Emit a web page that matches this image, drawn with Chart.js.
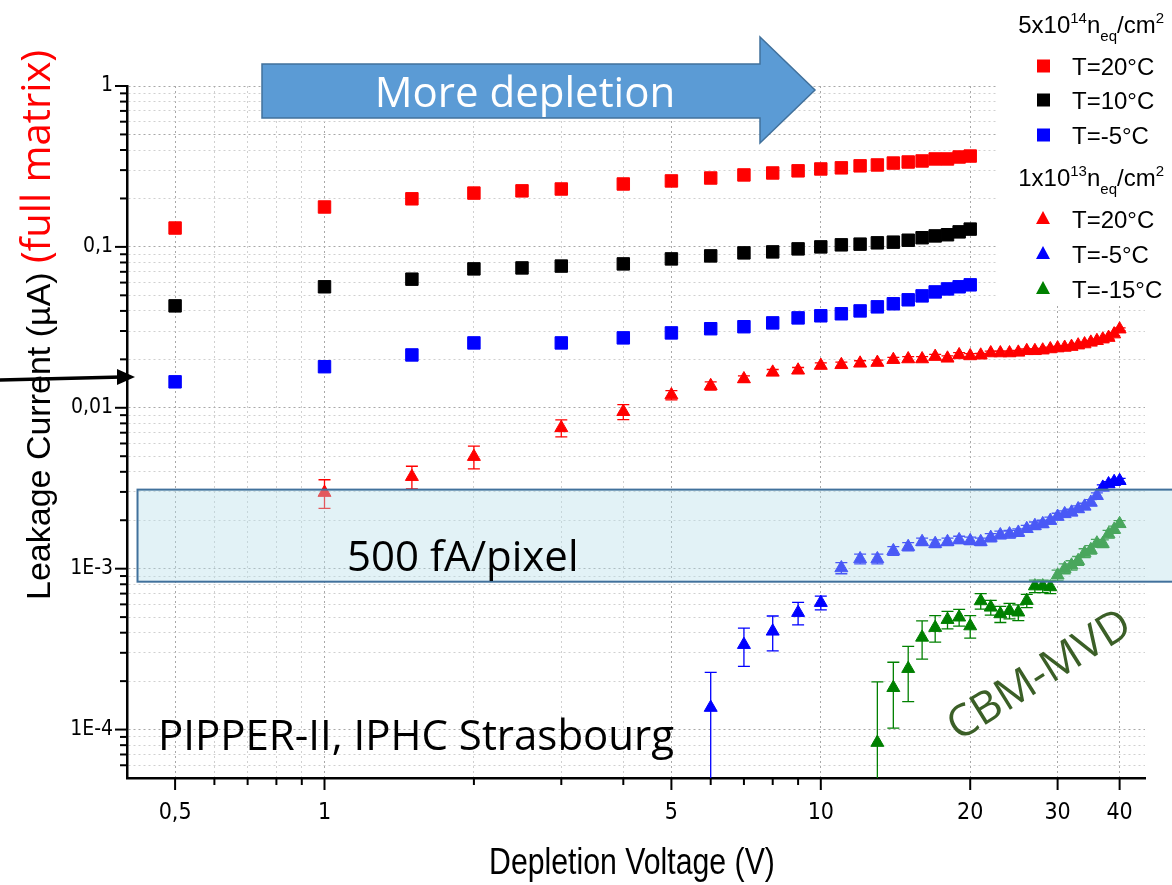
<!DOCTYPE html>
<html>
<head>
<meta charset="utf-8">
<script src="https://cdn.jsdelivr.net/npm/chart.js@4.4.1/dist/chart.umd.min.js"></script>
<style>
html, body { margin: 0; padding: 0; background: #fff; }
#wrap { width: 1172px; height: 885px; position: relative; }
</style>
</head>
<body>
<div id="wrap"><canvas id="chart" width="1172" height="885"></canvas></div>
<script>
// 5x10^14 neq/cm2 (squares)
const voltsSq = [0.5, 1, 1.5, 2, 2.5, 3, 4, 5, 6, 7, 8, 9, 10, 11, 12, 13, 14, 15, 16, 17, 18, 19, 20];
const redSq = [0.131, 0.177, 0.199, 0.216, 0.223, 0.229, 0.246, 0.257, 0.268, 0.280, 0.288, 0.297, 0.305, 0.310, 0.319, 0.323, 0.332, 0.337, 0.342, 0.352, 0.352, 0.362, 0.367];
const blackSq = [0.043, 0.0565, 0.063, 0.073, 0.074, 0.076, 0.0784, 0.0842, 0.0879, 0.0918, 0.0931, 0.0972, 0.100, 0.103, 0.104, 0.106, 0.107, 0.110, 0.114, 0.117, 0.119, 0.124, 0.129];
const voltsSqBlue = [0.5, 1, 1.5, 2, 3, 4, 5, 6, 7, 8, 9, 10, 11, 12, 13, 14, 15, 16, 17, 18, 19, 20];
const blueSq = [0.0145, 0.018, 0.0213, 0.0253, 0.0253, 0.0272, 0.0292, 0.0310, 0.0319, 0.0337, 0.0362, 0.0373, 0.0384, 0.0400, 0.0424, 0.0443, 0.0469, 0.0496, 0.0525, 0.0548, 0.0565, 0.0581];

// 1x10^13 neq/cm2 (triangles)
const voltsTriRed = [1, 1.5, 2, 3, 4, 5, 6, 7, 8, 9, 10, 11, 12, 13, 14, 15, 16, 17, 18, 19, 20, 21, 22, 23, 24, 25, 26, 27, 28, 29, 30, 31, 32, 33, 34, 35, 36, 37, 38, 39, 40];
const redTri = [0.00297, 0.00373, 0.00497, 0.0075, 0.00945, 0.0120, 0.0137, 0.0151, 0.0166, 0.0171, 0.0183, 0.0185, 0.0189, 0.0191, 0.0199, 0.0201, 0.0201, 0.0208, 0.0203, 0.0213, 0.0210, 0.0212, 0.0219, 0.0219, 0.0219, 0.0221, 0.0226, 0.0226, 0.0228, 0.0232, 0.0235, 0.0237, 0.0240, 0.0245, 0.0249, 0.0255, 0.0261, 0.0267, 0.0273, 0.0287, 0.0308];
const redTriErr = [0.0006, 0.0006, 0.0008, 0.0009, 0.001, 0.0008, 0.0008, 0.0007, 0.0007, 0.0007, 0.0007, 0.0007, 0.0007, 0.0007, 0.0007, 0.0007, 0.0007, 0.0007, 0.0007, 0.0007, 0.0007, 0.0006, 0.0006, 0.0006, 0.0006, 0.0006, 0.0006, 0.0006, 0.0006, 0.0006, 0.0006, 0.0006, 0.0006, 0.0006, 0.0006, 0.0006, 0.0006, 0.0006, 0.0006, 0.0006, 0.0006];

const voltsTriBlue = [6, 7, 8, 9, 10, 11, 12, 13, 14, 15, 16, 17, 18, 19, 20, 21, 22, 23, 24, 25, 26, 27, 28, 29, 30, 31, 32, 33, 34, 35, 36, 37, 38, 39, 40];
const blueTri = [1.37e-4, 3.37e-4, 4.08e-4, 5.33e-4, 6.15e-4, 1.01e-3, 1.15e-3, 1.15e-3, 1.29e-3, 1.37e-3, 1.47e-3, 1.43e-3, 1.47e-3, 1.51e-3, 1.49e-3, 1.47e-3, 1.56e-3, 1.62e-3, 1.64e-3, 1.68e-3, 1.77e-3, 1.85e-3, 1.90e-3, 1.99e-3, 2.11e-3, 2.19e-3, 2.24e-3, 2.35e-3, 2.44e-3, 2.58e-3, 2.84e-3, 3.20e-3, 3.36e-3, 3.47e-3, 3.52e-3];
const blueTriErr = [0.9e-4, 0.9e-4, 1.0e-4, 0.85e-4, 0.6e-4, 0.8e-4, 0.8e-4, 0.8e-4, 0.8e-4, 0.8e-4, 0.8e-4, 0.8e-4, 0.8e-4, 0.8e-4, 0.8e-4, 0.8e-4, 0.9e-4, 0.9e-4, 0.9e-4, 0.9e-4, 0.9e-4, 1.0e-4, 1.0e-4, 1.0e-4, 1.0e-4, 1.0e-4, 1.0e-4, 1.1e-4, 1.1e-4, 1.1e-4, 1.2e-4, 1.2e-4, 1.2e-4, 1.2e-4, 1.2e-4];

const voltsTriGreen = [13, 14, 15, 16, 17, 18, 19, 20, 21, 22, 23, 24, 25, 26, 27, 28, 29, 30, 31, 32, 33, 34, 35, 36, 37, 38, 39, 40];
const greenTri = [8.3e-5, 1.82e-4, 2.39e-4, 3.74e-4, 4.3e-4, 4.82e-4, 4.99e-4, 4.4e-4, 6.3e-4, 5.75e-4, 5.23e-4, 5.48e-4, 5.36e-4, 6.33e-4, 7.8e-4, 7.8e-4, 7.7e-4, 9.1e-4, 1.0e-3, 1.05e-3, 1.12e-3, 1.25e-3, 1.31e-3, 1.44e-3, 1.43e-3, 1.64e-3, 1.75e-3, 1.9e-3];
const greenTriErr = [1.15e-4, 0.8e-4, 0.9e-4, 1.0e-4, 0.8e-4, 0.6e-4, 0.6e-4, 0.7e-4, 0.7e-4, 0.6e-4, 0.6e-4, 0.6e-4, 0.6e-4, 0.6e-4, 0.7e-4, 0.7e-4, 0.7e-4, 0.7e-4, 0.7e-4, 0.7e-4, 0.7e-4, 0.8e-4, 0.8e-4, 0.8e-4, 0.8e-4, 0.9e-4, 0.9e-4, 0.9e-4];

// axes
const xTickVals = [0.5, 0.6, 0.7, 0.8, 0.9, 1, 2, 3, 4, 5, 6, 7, 8, 9, 10, 20, 30, 40];
const xTickText = { 0.5: '0,5', 1: '1', 5: '5', 10: '10', 20: '20', 30: '30', 40: '40' };
const xNoGrid = [6, 7, 8, 9];
const yTickVals = [6e-5, 7e-5, 8e-5, 9e-5,
  1e-4, 2e-4, 3e-4, 4e-4, 5e-4, 6e-4, 7e-4, 8e-4, 9e-4,
  1e-3, 2e-3, 3e-3, 4e-3, 5e-3, 6e-3, 7e-3, 8e-3, 9e-3,
  0.01, 0.02, 0.03, 0.04, 0.05, 0.06, 0.07, 0.08, 0.09,
  0.1, 0.2, 0.3, 0.4, 0.5, 0.6, 0.7, 0.8, 0.9, 1];
const yTickText = { 1: '1', 0.1: '0,1', 0.01: '0,01', 0.001: '1E-3', 0.0001: '1E-4' };

// 500 fA/pixel band (current range)
const bandLow = 8.3e-4;
const bandHigh = 3.1e-3;
const bandLeftV = 0.42;

const NARROW = "'DejaVu Sans Condensed', 'Liberation Sans', sans-serif";
const ARIAL = "'Liberation Sans', Arial, sans-serif";
const PPT = "'Open Sans', sans-serif";

const pts = (xs, ys) => xs.map((v, i) => ({ x: v, y: ys[i] }));

function squares(label, xs, ys, color) {
    return { label: label, data: pts(xs, ys), pointStyle: 'rect', pointRadius: 8.8,
        backgroundColor: color, borderColor: color, borderWidth: 1, showLine: false };
}
function triangles(label, xs, ys, err, color) {
    return { label: label, data: pts(xs, ys), errBars: err, pointStyle: 'triangle', pointRadius: 7.5,
        backgroundColor: color, borderColor: color, borderWidth: 1, showLine: false };
}

const errorBars = {
    id: 'errorBars',
    beforeDatasetsDraw(chart) {
        const { ctx, chartArea, scales } = chart;
        ctx.save();
        ctx.beginPath();
        ctx.rect(chartArea.left, chartArea.top, chartArea.width, chartArea.height);
        ctx.clip();
        chart.data.datasets.forEach(ds => {
            if (!ds.errBars) return;
            ctx.strokeStyle = ds.borderColor;
            ctx.lineWidth = 1.3;
            ds.data.forEach((p, i) => {
                const e = ds.errBars[i];
                const px = scales.x.getPixelForValue(p.x);
                const top = scales.y.getPixelForValue(p.y + e);
                const lo = p.y - e;
                const bot = lo > 0 ? scales.y.getPixelForValue(lo) : chartArea.bottom + 10;
                ctx.beginPath();
                ctx.moveTo(px, top); ctx.lineTo(px, bot);
                ctx.moveTo(px - 6, top); ctx.lineTo(px + 6, top);
                ctx.moveTo(px - 6, bot); ctx.lineTo(px + 6, bot);
                ctx.stroke();
            });
        });
        ctx.restore();
    }
};

function richText(ctx, parts, xRight, base, size) {
    let total = 0;
    parts.forEach(p => {
        ctx.font = (p.s || size) + 'px ' + ARIAL;
        p.w = ctx.measureText(p.t).width;
        total += p.w;
    });
    let xx = xRight - total;
    parts.forEach(p => {
        ctx.font = (p.s || size) + 'px ' + ARIAL;
        ctx.fillText(p.t, xx, base + (p.dy || 0));
        xx += p.w;
    });
}

const decorations = {
    id: 'decorations',
    afterDraw(chart) {
        const { ctx, chartArea, scales } = chart;
        const x = scales.x, y = scales.y;

        // tick marks
        ctx.save();
        ctx.strokeStyle = '#000';
        ctx.lineWidth = 2;
        xTickVals.forEach(v => {
            const px = x.getPixelForValue(v);
            const len = xTickText[v] ? 12 : 7;
            ctx.beginPath(); ctx.moveTo(px, chartArea.bottom); ctx.lineTo(px, chartArea.bottom + len); ctx.stroke();
        });
        yTickVals.forEach(v => {
            const py = y.getPixelForValue(v);
            const len = yTickText[v] ? 12 : 7;
            ctx.beginPath(); ctx.moveTo(chartArea.left - len, py); ctx.lineTo(chartArea.left, py); ctx.stroke();
        });
        ctx.restore();

        // x axis title, narrow Arial look
        ctx.save();
        ctx.translate((chartArea.left + chartArea.right) / 2 - 4, 874);
        ctx.scale(0.84, 1);
        ctx.fillStyle = '#000';
        ctx.font = '36px ' + ARIAL;
        ctx.textAlign = 'center';
        ctx.textBaseline = 'alphabetic';
        ctx.fillText('Depletion Voltage (V)', 0, 0);
        ctx.restore();

        // 500 fA/pixel band
        ctx.save();
        const bx = x.getPixelForValue(bandLeftV);
        const by1 = y.getPixelForValue(bandHigh);
        const by2 = y.getPixelForValue(bandLow);
        ctx.fillStyle = 'rgba(183, 222, 232, 0.4)';
        ctx.fillRect(bx, by1, chart.width - bx + 5, by2 - by1);
        ctx.strokeStyle = '#41719C';
        ctx.lineWidth = 2;
        ctx.strokeRect(bx, by1, chart.width - bx + 5, by2 - by1);
        ctx.fillStyle = '#000';
        ctx.font = '42px ' + PPT;
        ctx.textBaseline = 'alphabetic';
        ctx.fillText('500 fA/pixel', 347, 571);
        ctx.fillText('PIPPER-II, IPHC Strasbourg', 158, 750);
        ctx.restore();

        // More depletion arrow
        ctx.save();
        ctx.beginPath();
        ctx.moveTo(262, 64); ctx.lineTo(760, 64); ctx.lineTo(760, 37); ctx.lineTo(815, 90);
        ctx.lineTo(760, 143); ctx.lineTo(760, 118); ctx.lineTo(262, 118); ctx.closePath();
        ctx.fillStyle = '#5B9BD5';
        ctx.fill();
        ctx.strokeStyle = '#41719C';
        ctx.lineWidth = 1.5;
        ctx.stroke();
        ctx.fillStyle = '#fff';
        ctx.font = '42px ' + PPT;
        ctx.textAlign = 'center';
        ctx.fillText('More depletion', 525, 107);
        ctx.restore();

        // black arrow to the y axis
        ctx.save();
        ctx.strokeStyle = '#000';
        ctx.fillStyle = '#000';
        ctx.lineWidth = 3.5;
        ctx.beginPath(); ctx.moveTo(0, 380); ctx.lineTo(122, 377); ctx.stroke();
        ctx.beginPath(); ctx.moveTo(135, 377); ctx.lineTo(117, 369); ctx.lineTo(117, 385); ctx.closePath(); ctx.fill();
        ctx.restore();

        // CBM-MVD
        ctx.save();
        ctx.translate(1040, 676);
        ctx.rotate(-32 * Math.PI / 180);
        ctx.fillStyle = '#3B5F27';
        ctx.font = '44px ' + PPT;
        ctx.textAlign = 'center';
        ctx.textBaseline = 'middle';
        ctx.fillText('CBM-MVD', 0, 0);
        ctx.restore();

        // y axis title
        ctx.save();
        ctx.translate(50, 600);
        ctx.rotate(-Math.PI / 2);
        ctx.textBaseline = 'alphabetic';
        ctx.fillStyle = '#000';
        ctx.font = '34px ' + ARIAL;
        const t1 = 'Leakage Current (\u00b5A) ';
        ctx.fillText(t1, 0, 0);
        const w1 = ctx.measureText(t1).width;
        ctx.fillStyle = '#FF0000';
        ctx.font = '40px ' + PPT;
        ctx.fillText('(full matrix)', w1, 0);
        ctx.restore();

        // legend
        ctx.save();
        ctx.fillStyle = '#fff';
        ctx.fillRect(997, 0, 175, 305);
        ctx.fillStyle = '#000';
        ctx.textBaseline = 'alphabetic';
        richText(ctx, [{ t: '5x10' }, { t: '14', s: 15, dy: -10 }, { t: 'n' }, { t: 'eq', s: 15, dy: 8 }, { t: '/cm' }, { t: '2', s: 15, dy: -10 }], 1164, 33, 24);
        richText(ctx, [{ t: '1x10' }, { t: '13', s: 15, dy: -10 }, { t: 'n' }, { t: 'eq', s: 15, dy: 8 }, { t: '/cm' }, { t: '2', s: 15, dy: -10 }], 1164, 186, 24);
        const entries = [
            { c: '#FF0000', sq: true, y: 66, t: 'T=20\u00b0C' },
            { c: '#000000', sq: true, y: 100, t: 'T=10\u00b0C' },
            { c: '#0000FF', sq: true, y: 135, t: 'T=-5\u00b0C' },
            { c: '#FF0000', sq: false, y: 219, t: 'T=20\u00b0C' },
            { c: '#0000FF', sq: false, y: 254, t: 'T=-5\u00b0C' },
            { c: '#008000', sq: false, y: 289, t: 'T=-15\u00b0C' }
        ];
        entries.forEach(en => {
            ctx.fillStyle = en.c;
            if (en.sq) {
                ctx.fillRect(1037, en.y - 6.5, 13, 13);
            } else {
                ctx.beginPath();
                ctx.moveTo(1043, en.y - 8); ctx.lineTo(1050, en.y + 5); ctx.lineTo(1036, en.y + 5); ctx.closePath();
                ctx.fill();
            }
            ctx.fillStyle = '#000';
            ctx.font = '24px ' + ARIAL;
            ctx.fillText(en.t, 1072, en.y + 9);
        });
        ctx.restore();
    }
};

const gridColor = ctx => {
    if (!ctx.tick) return '#d0d0d0';
    const v = ctx.tick.value;
    if (xNoGrid.includes(v)) return 'rgba(0,0,0,0)';
    return (xTickText[v] || yTickText[v]) ? '#a8a8a8' : '#d0d0d0';
};

const chart = new Chart(document.getElementById('chart').getContext('2d'), {
    type: 'scatter',
    data: {
        datasets: [
            squares('5e14 T=20°C', voltsSq, redSq, '#FF0000'),
            squares('5e14 T=10°C', voltsSq, blackSq, '#000000'),
            squares('5e14 T=-5°C', voltsSqBlue, blueSq, '#0000FF'),
            triangles('1e13 T=20°C', voltsTriRed, redTri, redTriErr, '#FF0000'),
            triangles('1e13 T=-5°C', voltsTriBlue, blueTri, blueTriErr, '#0000FF'),
            triangles('1e13 T=-15°C', voltsTriGreen, greenTri, greenTriErr, '#008000')
        ]
    },
    options: {
        responsive: false,
        animation: false,
        devicePixelRatio: 1,
        layout: { padding: { top: 86, right: 27, left: 0, bottom: 0 } },
        plugins: { legend: { display: false }, tooltip: { enabled: false } },
        scales: {
            x: {
                type: 'logarithmic',
                min: 0.4,
                max: 45,
                afterBuildTicks: s => { s.ticks = xTickVals.map(v => ({ value: v })); },
                afterFit: s => { s.height = 107; },
                ticks: {
                    autoSkip: false, maxRotation: 0, minRotation: 0, padding: 21, color: '#000',
                    font: { family: NARROW, size: 23 },
                    callback: v => xTickText[v] || ''
                },
                grid: { drawTicks: false, color: gridColor, lineWidth: 1 },
                border: { display: true, color: '#000', width: 2.5, dash: [2, 3] },
                title: { display: false }
            },
            y: {
                type: 'logarithmic',
                min: 5e-5,
                max: 1,
                afterBuildTicks: s => { s.ticks = yTickVals.map(v => ({ value: v })); },
                afterFit: s => { s.width = 127; },
                ticks: {
                    autoSkip: false, padding: 14, color: '#000',
                    font: { family: NARROW, size: 21 },
                    callback: v => yTickText[v] || ''
                },
                grid: { drawTicks: false, color: gridColor, lineWidth: 1 },
                border: { display: true, color: '#000', width: 2.5, dash: [2, 3] }
            }
        }
    },
    plugins: [errorBars, decorations]
});
</script>
</body>
</html>
